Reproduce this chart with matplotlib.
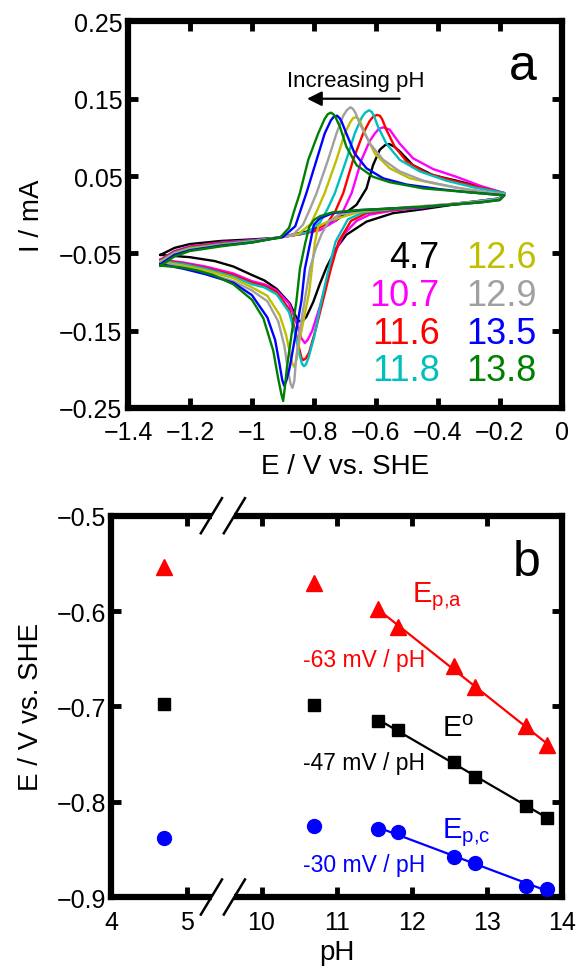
"""
Two-panel figure: cyclic voltammograms at several pH values (a) and
peak / formal potentials against pH with a broken pH axis (b).
"""

import numpy as np
import matplotlib.pyplot as plt
from matplotlib.patches import Rectangle
from matplotlib.lines import Line2D

plt.rcParams["font.family"] = ["Liberation Sans", "DejaVu Sans"]
plt.rcParams["mathtext.fontset"] = "custom"
plt.rcParams["mathtext.rm"] = "Liberation Sans"

# ---- panel a: cyclic voltammograms (E / V vs. SHE, I / mA) ----
ph_labels = ["4.7", "10.7", "11.6", "11.8", "12.6", "12.9", "13.5", "13.8"]
cv_colors = ["#000000", "#ff00ff", "#ff0000", "#00bfbf",
             "#bfbf00", "#a0a0a0", "#0000ff", "#008000"]

cv47_E = [-1.295, -1.25, -1.2, -1.1, -1.0, -0.92, -0.824, -0.727, -0.662, -0.630,
          -0.609, -0.587, -0.570, -0.557, -0.540, -0.523, -0.480, -0.415, -0.340,
          -0.26, -0.185,
          -0.20, -0.26, -0.35, -0.45, -0.544, -0.63, -0.695, -0.727, -0.759, -0.781,
          -0.802, -0.824, -0.835, -0.845, -0.852, -0.860, -0.877, -0.92, -0.96, -1.0,
          -1.06, -1.12, -1.2, -1.295]
cv47_I = [-0.052, -0.043, -0.038, -0.034, -0.032, -0.030, -0.022, -0.007, 0.013, 0.034,
          0.064, 0.084, 0.090, 0.0915, 0.088, 0.082, 0.064, 0.051, 0.044,
          0.036, 0.027,
          0.021, 0.018, 0.013, 0.007, 0.002, -0.009, -0.026, -0.043, -0.068, -0.090,
          -0.113, -0.132, -0.137, -0.138, -0.136, -0.130, -0.115, -0.096, -0.085, -0.078,
          -0.067, -0.060, -0.055, -0.052]

cv107_E = [-1.295, -1.25, -1.2, -1.1, -1.0, -0.92, -0.84, -0.78, -0.73, -0.705,
           -0.678, -0.646, -0.62, -0.603, -0.59, -0.576, -0.555, -0.523, -0.480,
           -0.415, -0.340, -0.26, -0.185,
           -0.20, -0.26, -0.35, -0.45, -0.55, -0.62, -0.662, -0.705, -0.735, -0.758,
           -0.78, -0.805, -0.82, -0.829, -0.84, -0.86, -0.88, -0.92, -0.96, -1.0,
           -1.06, -1.15, -1.22, -1.295]
cv107_I = [-0.058, -0.047, -0.041, -0.036, -0.033, -0.030, -0.025, -0.020, -0.008, 0.005,
           0.028, 0.071, 0.095, 0.105, 0.111, 0.113, 0.110, 0.092, 0.073,
           0.059, 0.049, 0.037, 0.028,
           0.021, 0.018, 0.014, 0.009, 0.005, 0.000, -0.008, -0.026, -0.052, -0.085,
           -0.118, -0.150, -0.162, -0.166, -0.160, -0.135, -0.115, -0.098, -0.090, -0.086,
           -0.076, -0.067, -0.062, -0.058]

cv116_E = [-1.295, -1.25, -1.2, -1.1, -1.0, -0.92, -0.84, -0.80, -0.755, -0.73,
           -0.705, -0.673, -0.641, -0.62, -0.608, -0.596, -0.587, -0.580, -0.566,
           -0.539, -0.501, -0.437, -0.351, -0.26, -0.185,
           -0.20, -0.26, -0.35, -0.45, -0.55, -0.63, -0.68, -0.72, -0.745, -0.77,
           -0.795, -0.815, -0.826, -0.834, -0.840, -0.848, -0.86, -0.88, -0.92, -0.96,
           -1.0, -1.06, -1.15, -1.22, -1.295]
cv116_I = [-0.059, -0.048, -0.042, -0.037, -0.034, -0.030, -0.025, -0.021, -0.010, 0.005,
           0.028, 0.071, 0.105, 0.121, 0.127, 0.129, 0.128, 0.124, 0.110,
           0.088, 0.069, 0.054, 0.044, 0.035, 0.028,
           0.021, 0.018, 0.014, 0.010, 0.006, 0.002, -0.008, -0.035, -0.070, -0.110,
           -0.150, -0.178, -0.186, -0.188, -0.185, -0.172, -0.150, -0.122, -0.100, -0.092,
           -0.088, -0.078, -0.069, -0.063, -0.059]

cv118_E = [-1.295, -1.25, -1.2, -1.1, -1.0, -0.92, -0.82, -0.78, -0.755, -0.732,
           -0.695, -0.668, -0.645, -0.634, -0.622, -0.613, -0.606, -0.593, -0.566,
           -0.523, -0.458, -0.372, -0.28, -0.185,
           -0.20, -0.26, -0.35, -0.45, -0.55, -0.64, -0.69, -0.73, -0.755, -0.78,
           -0.80, -0.818, -0.826, -0.832, -0.838, -0.848, -0.86, -0.88, -0.92, -0.96,
           -1.0, -1.06, -1.15, -1.22, -1.295]
cv118_I = [-0.060, -0.049, -0.043, -0.038, -0.034, -0.030, -0.023, -0.010, 0.008, 0.028,
           0.071, 0.105, 0.126, 0.132, 0.135, 0.133, 0.128, 0.114, 0.092,
           0.071, 0.056, 0.044, 0.035, 0.028,
           0.021, 0.018, 0.014, 0.010, 0.007, 0.003, -0.006, -0.035, -0.075, -0.120,
           -0.160, -0.186, -0.194, -0.196, -0.193, -0.178, -0.155, -0.126, -0.103, -0.094,
           -0.090, -0.080, -0.070, -0.064, -0.060]

cv126_E = [-1.295, -1.25, -1.2, -1.1, -1.0, -0.92, -0.85, -0.81, -0.79, -0.765,
           -0.727, -0.700, -0.682, -0.673, -0.664, -0.656, -0.650, -0.635, -0.603,
           -0.555, -0.490, -0.394, -0.30, -0.185,
           -0.20, -0.26, -0.35, -0.45, -0.55, -0.65, -0.70, -0.75, -0.786, -0.797,
           -0.806, -0.815, -0.830, -0.845, -0.855, -0.860, -0.863, -0.869, -0.875, -0.89,
           -0.91, -0.95, -1.0, -1.06, -1.15, -1.22, -1.295]
cv126_I = [-0.061, -0.050, -0.044, -0.039, -0.035, -0.030, -0.025, -0.012, 0.005, 0.028,
           0.071, 0.105, 0.120, 0.125, 0.126, 0.124, 0.120, 0.105, 0.079,
           0.060, 0.047, 0.039, 0.032, 0.026,
           0.020, 0.017, 0.014, 0.011, 0.008, 0.004, -0.002, -0.008, -0.015, -0.037,
           -0.069, -0.100, -0.130, -0.160, -0.185, -0.194, -0.197, -0.193, -0.183, -0.155,
           -0.130, -0.105, -0.094, -0.082, -0.072, -0.066, -0.061]

cv129_E = [-1.295, -1.25, -1.2, -1.1, -1.0, -0.92, -0.87, -0.835, -0.815, -0.791,
           -0.754, -0.727, -0.705, -0.694, -0.682, -0.674, -0.666, -0.652, -0.619,
           -0.576, -0.523, -0.447, -0.340, -0.185,
           -0.20, -0.26, -0.35, -0.45, -0.55, -0.65, -0.72, -0.754, -0.775, -0.795,
           -0.812, -0.830, -0.848, -0.858, -0.863, -0.869, -0.875, -0.882, -0.895, -0.915,
           -0.95, -1.0, -1.06, -1.15, -1.22, -1.295]
cv129_I = [-0.062, -0.051, -0.045, -0.040, -0.035, -0.030, -0.027, -0.013, 0.005, 0.028,
           0.071, 0.105, 0.128, 0.135, 0.139, 0.137, 0.132, 0.118, 0.092,
           0.071, 0.056, 0.044, 0.035, 0.026,
           0.020, 0.017, 0.014, 0.011, 0.008, 0.005, 0.000, -0.010, -0.025, -0.045,
           -0.069, -0.112, -0.155, -0.190, -0.215, -0.224, -0.219, -0.205, -0.170, -0.138,
           -0.112, -0.098, -0.086, -0.075, -0.068, -0.062]

cv135_E = [-1.295, -1.25, -1.2, -1.1, -1.0, -0.92, -0.90, -0.86, -0.845, -0.824,
           -0.791, -0.765, -0.745, -0.735, -0.725, -0.717, -0.710, -0.695, -0.668,
           -0.630, -0.576, -0.501, -0.394, -0.30, -0.185,
           -0.20, -0.26, -0.35, -0.45, -0.55, -0.65, -0.74, -0.781, -0.800, -0.812,
           -0.829, -0.840, -0.859, -0.878, -0.889, -0.896, -0.902, -0.91, -0.925, -0.95,
           -1.0, -1.06, -1.15, -1.22, -1.295]
cv135_I = [-0.064, -0.052, -0.046, -0.040, -0.036, -0.030, -0.029, -0.015, 0.003, 0.028,
           0.071, 0.105, 0.122, 0.127, 0.128, 0.125, 0.120, 0.105, 0.079,
           0.060, 0.047, 0.039, 0.033, 0.029, 0.025,
           0.019, 0.016, 0.013, 0.010, 0.008, 0.006, 0.002, -0.005, -0.013, -0.037,
           -0.070, -0.111, -0.155, -0.198, -0.215, -0.221, -0.214, -0.195, -0.162, -0.133,
           -0.104, -0.088, -0.077, -0.070, -0.064]

cv138_E = [-1.295, -1.25, -1.2, -1.1, -1.0, -0.93, -0.91, -0.88, -0.865, -0.845,
           -0.818, -0.786, -0.765, -0.755, -0.745, -0.737, -0.730, -0.716, -0.695,
           -0.662, -0.609, -0.555, -0.447, -0.329, -0.185,
           -0.20, -0.26, -0.35, -0.45, -0.55, -0.65, -0.74, -0.78, -0.80, -0.815,
           -0.828, -0.845, -0.856, -0.872, -0.887, -0.894, -0.899, -0.905, -0.915, -0.931,
           -0.963, -1.0, -1.06, -1.125, -1.178, -1.232, -1.295]
cv138_I = [-0.066, -0.054, -0.047, -0.041, -0.036, -0.031, -0.030, -0.017, 0.003, 0.028,
           0.071, 0.105, 0.124, 0.130, 0.132, 0.130, 0.126, 0.114, 0.088,
           0.064, 0.049, 0.042, 0.034, 0.030, 0.025,
           0.019, 0.016, 0.013, 0.010, 0.008, 0.006, 0.003, -0.002, -0.007, -0.016,
           -0.037, -0.070, -0.111, -0.155, -0.198, -0.225, -0.241, -0.232, -0.212, -0.176,
           -0.134, -0.110, -0.090, -0.078, -0.072, -0.068, -0.066]

cv_E = [cv47_E, cv107_E, cv116_E, cv118_E, cv126_E, cv129_E, cv135_E, cv138_E]
cv_I = [cv47_I, cv107_I, cv116_I, cv118_I, cv126_I, cv129_I, cv135_I, cv138_I]

# ---- panel b: potentials vs pH ----
pH = [4.7, 10.7, 11.55, 11.82, 12.56, 12.85, 13.53, 13.81]
E_pa = [-0.554, -0.571, -0.598, -0.617, -0.658, -0.680, -0.721, -0.741]
E_formal = [-0.697, -0.699, -0.715, -0.725, -0.758, -0.774, -0.805, -0.817]
E_pc = [-0.838, -0.826, -0.829, -0.832, -0.858, -0.864, -0.888, -0.892]
n_fit = 6  # linear fits use the six highest-pH points

SPINE_W = 4.5
FS_TICK = 18
FS_LABEL = 20


def style_axes(ax, xpad=4):
    for s in ax.spines.values():
        s.set_linewidth(SPINE_W)
    ax.tick_params(direction="in", length=7, width=3.5, labelsize=FS_TICK,
                   top=True, right=True, pad=4)
    ax.tick_params(axis="x", pad=xpad)


def fwd(x):
    x = np.asarray(x, dtype=float)
    return np.where(x <= 5, x - 4, np.where(x >= 10, x - 8, 1 + (x - 5) / 5))


def inv(y):
    y = np.asarray(y, dtype=float)
    return np.where(y <= 1, y + 4, np.where(y >= 2, y + 8, 5 + (y - 1) * 5))


fig = plt.figure(figsize=(5.77, 9.70), dpi=100)

# panel a
ax1 = fig.add_axes([0.2218, 0.5784, 0.7516, 0.3985])
for E, I, c in zip(cv_E, cv_I, cv_colors):
    ax1.plot(E, I, color=c, lw=1.7, solid_joinstyle="round")
ax1.set_xlim(-1.4, 0)
ax1.set_ylim(-0.25, 0.25)
ax1.set_xticks([-1.4, -1.2, -1.0, -0.8, -0.6, -0.4, -0.2, 0])
ax1.set_xticklabels(["\u22121.4", "\u22121.2", "\u22121", "\u22120.8", "\u22120.6",
                     "\u22120.4", "\u22120.2", "0"])
ax1.set_yticks([-0.25, -0.15, -0.05, 0.05, 0.15, 0.25])
ax1.set_yticklabels(["\u22120.25", "\u22120.15", "\u22120.05", "0.05", "0.15", "0.25"])
style_axes(ax1, xpad=9)
ax1.set_xlabel("E / V vs. SHE", fontsize=FS_LABEL, labelpad=6)
ax1.set_ylabel("I / mA", fontsize=FS_LABEL, labelpad=10)

ax1.text(-0.08, 0.175, "a", fontsize=36, ha="right", va="baseline")
ax1.text(-0.665, 0.167, "Increasing pH", fontsize=16, ha="center", va="baseline")
ax1.annotate("", xy=(-0.822, 0.150), xytext=(-0.523, 0.150),
             arrowprops=dict(arrowstyle="-|>", color="black", lw=1.6,
                             mutation_scale=22, shrinkA=0, shrinkB=0))

col_x = [0.719, 0.942]
row_y = [0.364, 0.266, 0.168, 0.072]
for k, (lab, c) in enumerate(zip(ph_labels, cv_colors)):
    ax1.text(col_x[k // 4], row_y[k % 4], lab, color=c, fontsize=26,
             ha="right", va="baseline", transform=ax1.transAxes)

# panel b
ax2 = fig.add_axes([0.1932, 0.0742, 0.7802, 0.3931])
ax2.set_xscale("function", functions=(fwd, inv))
ax2.set_xlim(4, 14)
ax2.set_ylim(-0.9, -0.5)

series = [(E_pa, "^", "#ff0000", 12), (E_formal, "s", "#000000", 8.5),
          (E_pc, "o", "#0000ff", 10)]
for vals, mk, c, ms in series:
    ax2.plot(pH, vals, ls="none", marker=mk, color=c, ms=ms, mec=c, zorder=4)
    x_fit = np.array(pH[-n_fit:])
    slope, icpt = np.polyfit(x_fit, vals[-n_fit:], 1)
    ax2.plot([x_fit[0], x_fit[-1]], [slope * x_fit[0] + icpt, slope * x_fit[-1] + icpt],
             color=c, lw=1.6, zorder=3)

ax2.set_xticks([4, 5, 10, 11, 12, 13, 14])
ax2.set_xticklabels(["4", "5", "10", "11", "12", "13", "14"])
ax2.xaxis.set_minor_locator(plt.NullLocator())
ax2.set_yticks([-0.9, -0.8, -0.7, -0.6, -0.5])
ax2.set_yticklabels(["\u22120.9", "\u22120.8", "\u22120.7", "\u22120.6", "\u22120.5"])
style_axes(ax2, xpad=9)
ax2.set_xlabel("pH", fontsize=FS_LABEL, labelpad=4)
ax2.set_ylabel("E / V vs. SHE", fontsize=FS_LABEL, labelpad=9)

ax2.text(13.72, -0.562, "b", fontsize=36, ha="right", va="baseline")
ax2.text(12.0, -0.590, r"E$_\mathregular{p{,}a}$", color="#ff0000", fontsize=21,
         ha="left", va="baseline")
ax2.text(12.4, -0.731, r"E$^\mathregular{o}$", color="#000000", fontsize=21,
         ha="left", va="baseline")
ax2.text(12.4, -0.837, r"E$_\mathregular{p{,}c}$", color="#0000ff", fontsize=21,
         ha="left", va="baseline")
ax2.text(10.55, -0.658, "-63 mV / pH", color="#ff0000", fontsize=16.5,
         ha="left", va="baseline")
ax2.text(10.55, -0.766, "-47 mV / pH", color="#000000", fontsize=16.5,
         ha="left", va="baseline")
ax2.text(10.55, -0.873, "-30 mV / pH", color="#0000ff", fontsize=16.5,
         ha="left", va="baseline")

# axis break marks on the top and bottom spines
for y0 in (0.0, 1.0):
    ax2.add_patch(Rectangle((0.224, y0 - 0.025), 0.048, 0.05, transform=ax2.transAxes,
                            facecolor="white", edgecolor="none", clip_on=False, zorder=5))
    for cx in (0.222, 0.273):
        ax2.add_line(Line2D([cx - 0.0235, cx + 0.0235], [y0 - 0.046, y0 + 0.046],
                            transform=ax2.transAxes, color="black", lw=1.8,
                            clip_on=False, zorder=6))

fig.savefig("out.png", dpi=100)
